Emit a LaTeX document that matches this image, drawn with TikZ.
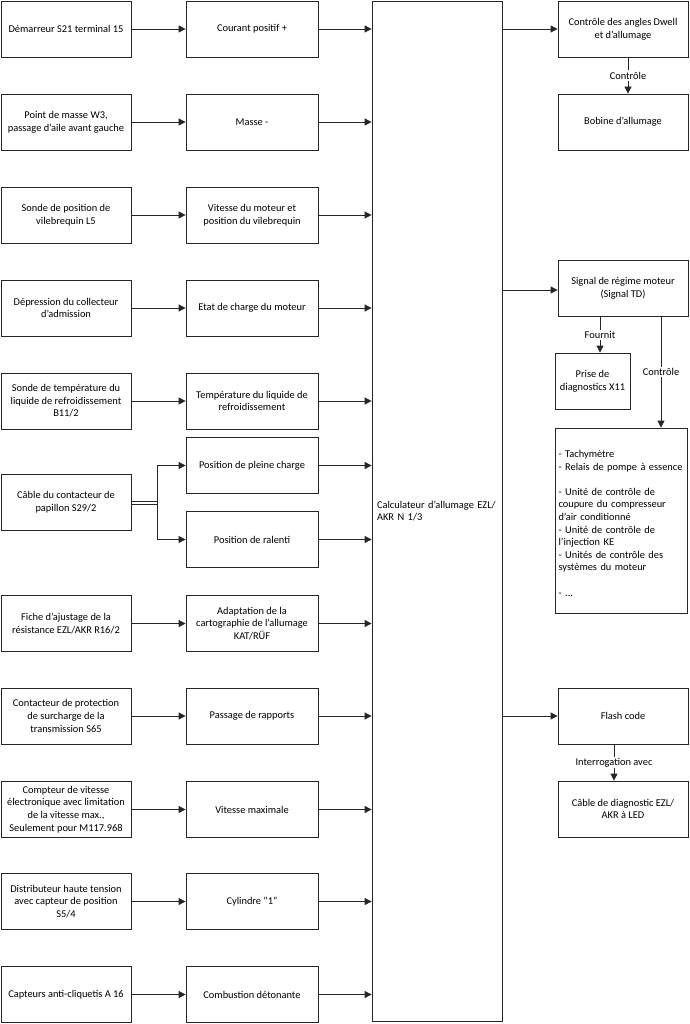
\documentclass[tikz,border=0pt]{standalone}
\usepackage{fontspec}
\setmainfont{Carlito}
\usetikzlibrary{arrows.meta,calc}
\begin{document}
\begin{tikzpicture}[x=1pt,y=-1pt,
  font=\fontsize{10.4}{12.6}\selectfont,
  box/.style={draw=black!85, line width=0.8pt, minimum width=130pt, minimum height=56pt, align=center, inner sep=2pt},
  mbox/.style={box, minimum width=132pt},
  arr/.style={-{Triangle[length=7pt,width=7pt]}, line width=0.8pt, draw=black!85},
  lbl/.style={fill=white, inner sep=1.5pt}]
\useasboundingbox (0,0) rectangle (689,1024);
% left column
\node[box] (L1) at (66,29) {Démarreur S21 terminal 15};
\node[box] (L2) at (66,122) {Point de masse W3,\\passage d’aile avant gauche};
\node[box] (L3) at (66,215) {Sonde de position de\\vilebrequin L5};
\node[box] (L4) at (66,308) {Dépression du collecteur\\d’admission};
\node[box] (L5) at (66,401) {Sonde de température du\\liquide de refroidissement\\B11/2};
\node[box] (L6) at (66,502.5) {Câble du contacteur de\\papillon S29/2};
\node[box] (L7) at (66,623.5) {Fiche d’ajustage de la\\résistance EZL/AKR R16/2};
\node[box] (L8) at (66,716) {Contacteur de protection\\de surcharge de la\\transmission S65};
\node[box] (L9) at (66,809.5) {Compteur de vitesse\\électronique avec limitation\\de la vitesse max.,\\Seulement pour M117.968};
\node[box] (L10) at (66,901.5) {Distributeur haute tension\\avec capteur de position\\S5/4};
\node[box] (L11) at (66,994.5) {Capteurs anti-cliquetis A 16};
% middle column
\node[mbox] (M1) at (252,29) {Courant positif +};
\node[mbox] (M2) at (252,122) {Masse -};
\node[mbox] (M3) at (252,215) {Vitesse du moteur et\\position du vilebrequin};
\node[mbox] (M4) at (252,308) {Etat de charge du moteur};
\node[mbox] (M5) at (252,401) {Température du liquide de\\refroidissement};
\node[mbox] (Mp) at (252,465.5) {Position de pleine charge};
\node[mbox] (Mr) at (252,539.5) {Position de ralenti};
\node[mbox] (M7) at (252,623.5) {Adaptation de la\\cartographie de l’allumage\\KAT/RÜF};
\node[mbox] (M8) at (252,716) {Passage de rapports};
\node[mbox] (M9) at (252,809.5) {Vitesse maximale};
\node[mbox] (M10) at (252,901.5) {Cylindre "1"};
\node[mbox] (M11) at (252,994.5) {Combustion détonante};
% central unit
\node[box, minimum height=1020pt, text width=120pt, inner xsep=5pt, align=left] (C) at (437,511) {Calculateur d’allumage EZL/\\AKR N 1/3};
% right column
\node[box] (R1) at (623,29) {Contrôle des angles Dwell\\et d’allumage};
\node[box] (R2) at (623,122) {Bobine d’allumage};
\node[box] (R3) at (623,288.5) {Signal de régime moteur\\(Signal TD)};
\node[box, minimum width=75pt] (R4) at (592.5,381) {Prise de\\diagnostics X11};
\node[box, minimum width=132pt, minimum height=185pt, text width=125pt, inner xsep=3.5pt, align=left] (R5) at (621,520.5) {\mbox{}\\- Tachymètre\\- Relais de pompe à essence\\\mbox{}\\- Unité de contrôle de\\coupure du compresseur\\d’air conditionné\\- Unité de contrôle de\\l’injection KE\\- Unités de contrôle des\\systèmes du moteur\\\mbox{}\\- ...};
\node[box] (R6) at (623,716) {Flash code};
\node[box] (R7) at (623,809) {Câble de diagnostic EZL/\\AKR à LED};
% helper x positions
\coordinate (J) at (157,0);
\coordinate (P1) at (600,0);
\coordinate (P2) at (661,0);
\coordinate (P3) at (614,0);
\coordinate (P4) at (628,0);
% left -> middle -> central
\foreach \i in {1,2,3,4,5,7,8,9,10,11}{
  \draw[arr] (L\i.east) -- (M\i.west);
  \draw[arr] (M\i.east) -- (M\i.east -| C.west);
}
\draw[arr] (Mp.east) -- (Mp.east -| C.west);
\draw[arr] (Mr.east) -- (Mr.east -| C.west);
\draw[arr] ([yshift=-1.5pt]L6.east) -- ([yshift=-1.5pt]L6.east -| J) |- (Mp.west);
\draw[arr] ([yshift=1.5pt]L6.east) -- ([yshift=1.5pt]L6.east -| J) |- (Mr.west);
% central -> right
\draw[arr] (R1.west -| C.east) -- (R1.west);
\draw[arr] ([yshift=-1.5pt]R3.west -| C.east) -- ([yshift=-1.5pt]R3.west);
\draw[arr] (R6.west -| C.east) -- (R6.west);
% right verticals
\draw[arr] (R1.south -| P4) -- node[lbl]{Contrôle} (R2.north -| P4);
\draw[arr] (R3.south -| P1) -- node[lbl]{Fournit} (R4.north -| P1);
\draw[arr] (R3.south -| P2) -- node[lbl]{Contrôle} (R5.north -| P2);
\draw[arr] (R6.south -| P3) -- node[lbl]{Interrogation avec} (R7.north -| P3);
\end{tikzpicture}
\end{document}
